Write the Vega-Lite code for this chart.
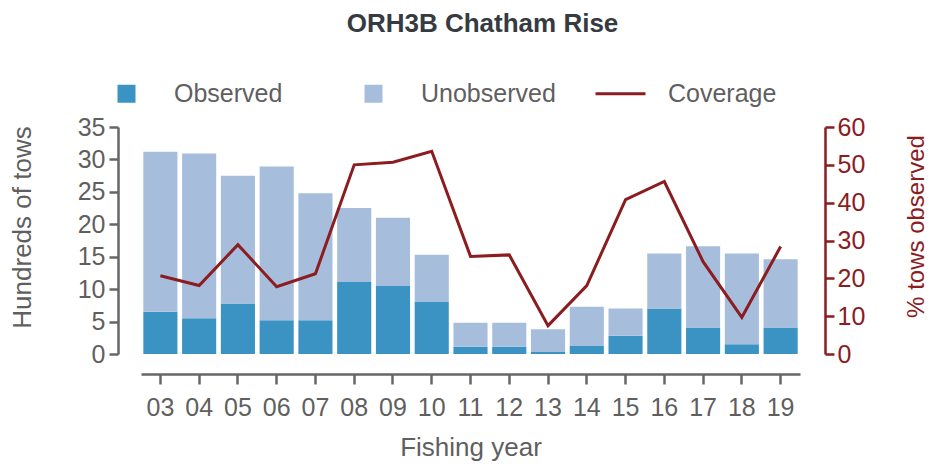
{
  "$schema": "https://vega.github.io/schema/vega-lite/v6.json",
  "width": 659,
  "height": 227,
  "autosize": {"type": "none"},
  "padding": {"left": 141, "top": 127, "right": 137, "bottom": 110},
  "background": "white",
  "config": {
    "font": "Liberation Sans",
    "view": {"stroke": null}
  },
  "title": {
    "text": "ORH3B Chatham Rise",
    "font": "Liberation Sans",
    "fontSize": 26,
    "fontWeight": "bold",
    "color": "#353b41",
    "anchor": "middle",
    "dx": 12,
    "offset": 44
  },
  "datasets": {
    "bars": [
      {"year": "03", "series": "Observed", "value": 6.5}, {"year": "03", "series": "Unobserved", "value": 24.7},
      {"year": "04", "series": "Observed", "value": 5.5}, {"year": "04", "series": "Unobserved", "value": 25.4},
      {"year": "05", "series": "Observed", "value": 7.8}, {"year": "05", "series": "Unobserved", "value": 19.7},
      {"year": "06", "series": "Observed", "value": 5.2}, {"year": "06", "series": "Unobserved", "value": 23.7},
      {"year": "07", "series": "Observed", "value": 5.2}, {"year": "07", "series": "Unobserved", "value": 19.6},
      {"year": "08", "series": "Observed", "value": 11.1}, {"year": "08", "series": "Unobserved", "value": 11.4},
      {"year": "09", "series": "Observed", "value": 10.5}, {"year": "09", "series": "Unobserved", "value": 10.5},
      {"year": "10", "series": "Observed", "value": 8.1}, {"year": "10", "series": "Unobserved", "value": 7.2},
      {"year": "11", "series": "Observed", "value": 1.1}, {"year": "11", "series": "Unobserved", "value": 3.7},
      {"year": "12", "series": "Observed", "value": 1.1}, {"year": "12", "series": "Unobserved", "value": 3.7},
      {"year": "13", "series": "Observed", "value": 0.3}, {"year": "13", "series": "Unobserved", "value": 3.5},
      {"year": "14", "series": "Observed", "value": 1.3}, {"year": "14", "series": "Unobserved", "value": 6.0},
      {"year": "15", "series": "Observed", "value": 2.8}, {"year": "15", "series": "Unobserved", "value": 4.2},
      {"year": "16", "series": "Observed", "value": 7.0}, {"year": "16", "series": "Unobserved", "value": 8.5},
      {"year": "17", "series": "Observed", "value": 4.1}, {"year": "17", "series": "Unobserved", "value": 12.5},
      {"year": "18", "series": "Observed", "value": 1.5}, {"year": "18", "series": "Unobserved", "value": 14.0},
      {"year": "19", "series": "Observed", "value": 4.1}, {"year": "19", "series": "Unobserved", "value": 10.5}
    ],
    "coverage": [
      {"year": "03", "coverage": 20.7}, {"year": "04", "coverage": 18.1}, {"year": "05", "coverage": 28.9},
      {"year": "06", "coverage": 17.8}, {"year": "07", "coverage": 21.2}, {"year": "08", "coverage": 50.0},
      {"year": "09", "coverage": 50.7}, {"year": "10", "coverage": 53.6}, {"year": "11", "coverage": 25.8},
      {"year": "12", "coverage": 26.2}, {"year": "13", "coverage": 7.5}, {"year": "14", "coverage": 18.1},
      {"year": "15", "coverage": 40.8}, {"year": "16", "coverage": 45.6}, {"year": "17", "coverage": 24.4},
      {"year": "18", "coverage": 9.7}, {"year": "19", "coverage": 28.4}
    ]
  },
  "layer": [
    {
      "data": {"name": "bars"},
      "mark": {"type": "bar"},
      "encoding": {
        "x": {
          "field": "year",
          "type": "ordinal",
          "scale": {"paddingInner": 0.12, "paddingOuter": 0.06},
          "axis": {
            "orient": "bottom",
            "offset": 20,
            "labelAngle": 0,
            "domainColor": "#666666",
            "domainWidth": 2.5,
            "tickColor": "#666666",
            "tickWidth": 2.5,
            "tickSize": 10,
            "labelFontSize": 25,
            "labelColor": "#5f5f5f",
            "labelPadding": 11,
            "title": "Fishing year",
            "titleFontSize": 26,
            "titleFontWeight": "normal",
            "titleColor": "#5f5f5f",
            "titlePadding": 14
          }
        },
        "y": {
          "field": "value",
          "type": "quantitative",
          "stack": "zero",
          "scale": {"domain": [0, 35], "nice": false},
          "axis": {
            "orient": "left",
            "offset": 23,
            "values": [0, 5, 10, 15, 20, 25, 30, 35],
            "grid": false,
            "domainColor": "#666666",
            "domainWidth": 2.5,
            "tickColor": "#666666",
            "tickWidth": 2.5,
            "tickSize": 9,
            "labelFontSize": 25,
            "labelColor": "#5f5f5f",
            "labelPadding": 4,
            "title": "Hundreds of tows",
            "titleFontSize": 26,
            "titleFontWeight": "normal",
            "titleColor": "#5f5f5f",
            "titlePadding": 42,
            "titleY": 100
          }
        },
        "order": {"field": "series", "sort": "ascending"},
        "color": {
          "field": "series",
          "type": "nominal",
          "scale": {
            "domain": ["Observed", "Unobserved", "Coverage"],
            "range": ["#3b93c3", "#a6bedc", "#8b1c1f"]
          },
          "legend": {
            "orient": "none",
            "legendX": -27,
            "legendY": -46,
            "direction": "horizontal",
            "columns": 3,
            "gridAlign": "all",
            "columnPadding": 33,
            "title": null,
            "padding": 0,
            "symbolSize": 2500,
            "symbolStrokeWidth": 3,
            "labelOffset": 35,
            "labelFontSize": 25,
            "labelColor": "#5f5f5f",
            "labelLimit": 400,
            "encode": {
              "symbols": {
                "update": {
                  "shape": {"signal": "datum.label === 'Coverage' ? 'stroke' : 'square'"},
                  "size": {"signal": "datum.label === 'Coverage' ? 2500 : 324"},
                  "fill": {"signal": "datum.label === 'Coverage' ? 'transparent' : scale('color', datum.value)"},
                  "stroke": {"signal": "datum.label === 'Coverage' ? scale('color', datum.value) : 'transparent'"},
                  "strokeWidth": {"signal": "datum.label === 'Coverage' ? 3 : 0"},
                  "opacity": {"value": 1}
                }
              }
            }
          }
        }
      }
    },
    {
      "data": {"name": "coverage"},
      "mark": {"type": "line", "strokeWidth": 3},
      "encoding": {
        "x": {"field": "year", "type": "ordinal"},
        "y": {
          "field": "coverage",
          "type": "quantitative",
          "scale": {"domain": [0, 60], "nice": false},
          "axis": {
            "orient": "right",
            "offset": 25,
            "values": [0, 10, 20, 30, 40, 50, 60],
            "grid": false,
            "domainColor": "#8b1c1f",
            "domainWidth": 2.5,
            "tickColor": "#8b1c1f",
            "tickWidth": 2.5,
            "tickSize": 9,
            "labelFontSize": 25,
            "labelColor": "#8b1c1f",
            "labelPadding": 3,
            "title": "% tows observed",
            "titleAngle": 270,
            "titleBaseline": "top",
            "titleFontSize": 24,
            "titleFontWeight": "normal",
            "titleColor": "#8b1c1f",
            "titlePadding": 40,
            "titleY": 99
          }
        },
        "color": {"datum": "Coverage", "type": "nominal"}
      }
    }
  ],
  "resolve": {"scale": {"y": "independent"}}
}
